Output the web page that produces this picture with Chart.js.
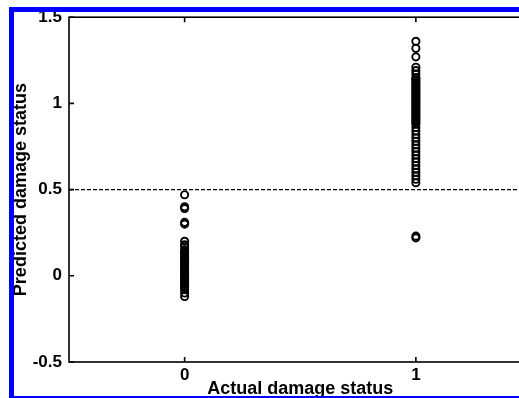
<!DOCTYPE html>
<html>
<head>
<meta charset="utf-8">
<script src="https://cdn.jsdelivr.net/npm/chart.js@4/dist/chart.umd.min.js"></script>
<style>
  html, body { margin: 0; padding: 0; background: #fff; overflow: hidden; }
  #wrap { position: relative; width: 519px; height: 398px; overflow: hidden; }
  #plot { position: absolute; left: 0; top: 0; }
  #frame { position: absolute; left: 9px; top: 7px; width: 600px; height: 384px; border: 5px solid #0000ff; pointer-events: none; }
</style>
</head>
<body>
<div id="wrap">
  <canvas id="plot" width="540" height="400"></canvas>
  <div id="frame"></div>
</div>
<script>
// predicted output of the classifier, grouped by the actual damage state
const undamagedPred = [0.47, 0.40, 0.39, 0.31, 0.30, 0.20, 0.18, 0.17, 0.15, 0.14, 0.13, 0.12,
  0.11, 0.10, 0.09, 0.08, 0.07, 0.06, 0.05, 0.04, 0.03, 0.02, 0.01, 0.00, -0.01, -0.02, -0.03,
  -0.04, -0.05, -0.06, -0.07, -0.08, -0.10, -0.12];
const damagedPred = [1.36, 1.32, 1.27, 1.21, 1.19, 1.17, 1.15, 1.14, 1.13, 1.12, 1.11, 1.10,
  1.09, 1.08, 1.07, 1.06, 1.05, 1.04, 1.03, 1.02, 1.01, 1.00, 0.99, 0.98, 0.97, 0.96, 0.95,
  0.94, 0.93, 0.92, 0.91, 0.90, 0.89, 0.88, 0.86, 0.84, 0.82, 0.80, 0.78, 0.76, 0.74, 0.72,
  0.70, 0.68, 0.66, 0.64, 0.62, 0.60, 0.58, 0.56, 0.54, 0.23, 0.22];
const threshold = 0.5;
const xTicks = [0, 1];
const yTicks = [-0.5, 0, 0.5, 1, 1.5];
const xRange = [-0.5, 1.5];
const yRange = [-0.5, 1.5];

const fontFamily = '"Liberation Sans", Arial, sans-serif';

// box round the plot with inward tick marks on all four sides
const axisBox = {
  id: 'axisBox',
  afterDatasetsDraw(chart) {
    const {ctx, chartArea: a, scales: {x, y}} = chart;
    ctx.save();
    ctx.strokeStyle = '#000';
    ctx.lineWidth = 1.6;
    ctx.strokeRect(a.left, a.top, a.right - a.left, a.bottom - a.top);
    ctx.beginPath();
    xTicks.forEach(v => {
      const px = x.getPixelForValue(v);
      ctx.moveTo(px, a.bottom); ctx.lineTo(px, a.bottom - 5);
      ctx.moveTo(px, a.top); ctx.lineTo(px, a.top + 5);
    });
    yTicks.forEach(v => {
      const py = y.getPixelForValue(v);
      ctx.moveTo(a.left, py); ctx.lineTo(a.left + 5, py);
      ctx.moveTo(a.right, py); ctx.lineTo(a.right - 5, py);
    });
    ctx.stroke();
    ctx.restore();
  }
};

const markerStyle = {
  pointStyle: 'circle',
  pointRadius: 3.6,
  pointBorderWidth: 1.9,
  borderColor: '#000',
  backgroundColor: 'rgba(0,0,0,0)',
  showLine: false
};

const ctx = document.getElementById('plot').getContext('2d');
const chart = new Chart(ctx, {
  type: 'scatter',
  data: {
    datasets: [
      Object.assign({ data: undamagedPred.map(v => ({x: 0, y: v})) }, markerStyle),
      Object.assign({ data: damagedPred.map(v => ({x: 1, y: v})) }, markerStyle),
      {
        type: 'line',
        data: xRange.map(v => ({x: v, y: threshold})),
        borderColor: '#000',
        borderWidth: 1.4,
        borderDash: [4, 2],
        pointRadius: 0,
        showLine: true
      }
    ]
  },
  options: {
    responsive: false,
    animation: false,
    layout: { padding: { left: 0, top: 16, right: 8.5, bottom: 0 } },
    plugins: { legend: { display: false }, tooltip: { enabled: false } },
    scales: {
      x: {
        type: 'linear',
        min: xRange[0],
        max: xRange[1],
        afterBuildTicks: s => { s.ticks = xTicks.map(v => ({value: v})); },
        afterFit: s => { s.height = 38; },
        grid: { display: false, drawTicks: false },
        border: { display: false },
        ticks: {
          color: '#000',
          padding: 3,
          font: { family: fontFamily, size: 17, weight: 'bold' },
          callback: v => String(v)
        },
        title: {
          display: true,
          text: 'Actual damage status',
          color: '#000',
          padding: 0,
          font: { family: fontFamily, size: 18, weight: 'bold' }
        }
      },
      y: {
        type: 'linear',
        min: yRange[0],
        max: yRange[1],
        afterBuildTicks: s => { s.ticks = yTicks.map(v => ({value: v})); },
        afterFit: s => { s.width = 69; },
        grid: { display: false, drawTicks: false },
        border: { display: false },
        ticks: {
          color: '#000',
          padding: 7,
          font: { family: fontFamily, size: 17, weight: 'bold' },
          callback: v => String(v)
        },
        title: {
          display: true,
          text: 'Predicted damage status',
          color: '#000',
          padding: { top: 10, bottom: 0 },
          font: { family: fontFamily, size: 18, weight: 'bold' }
        }
      }
    }
  },
  plugins: [axisBox]
});
</script>
</body>
</html>
